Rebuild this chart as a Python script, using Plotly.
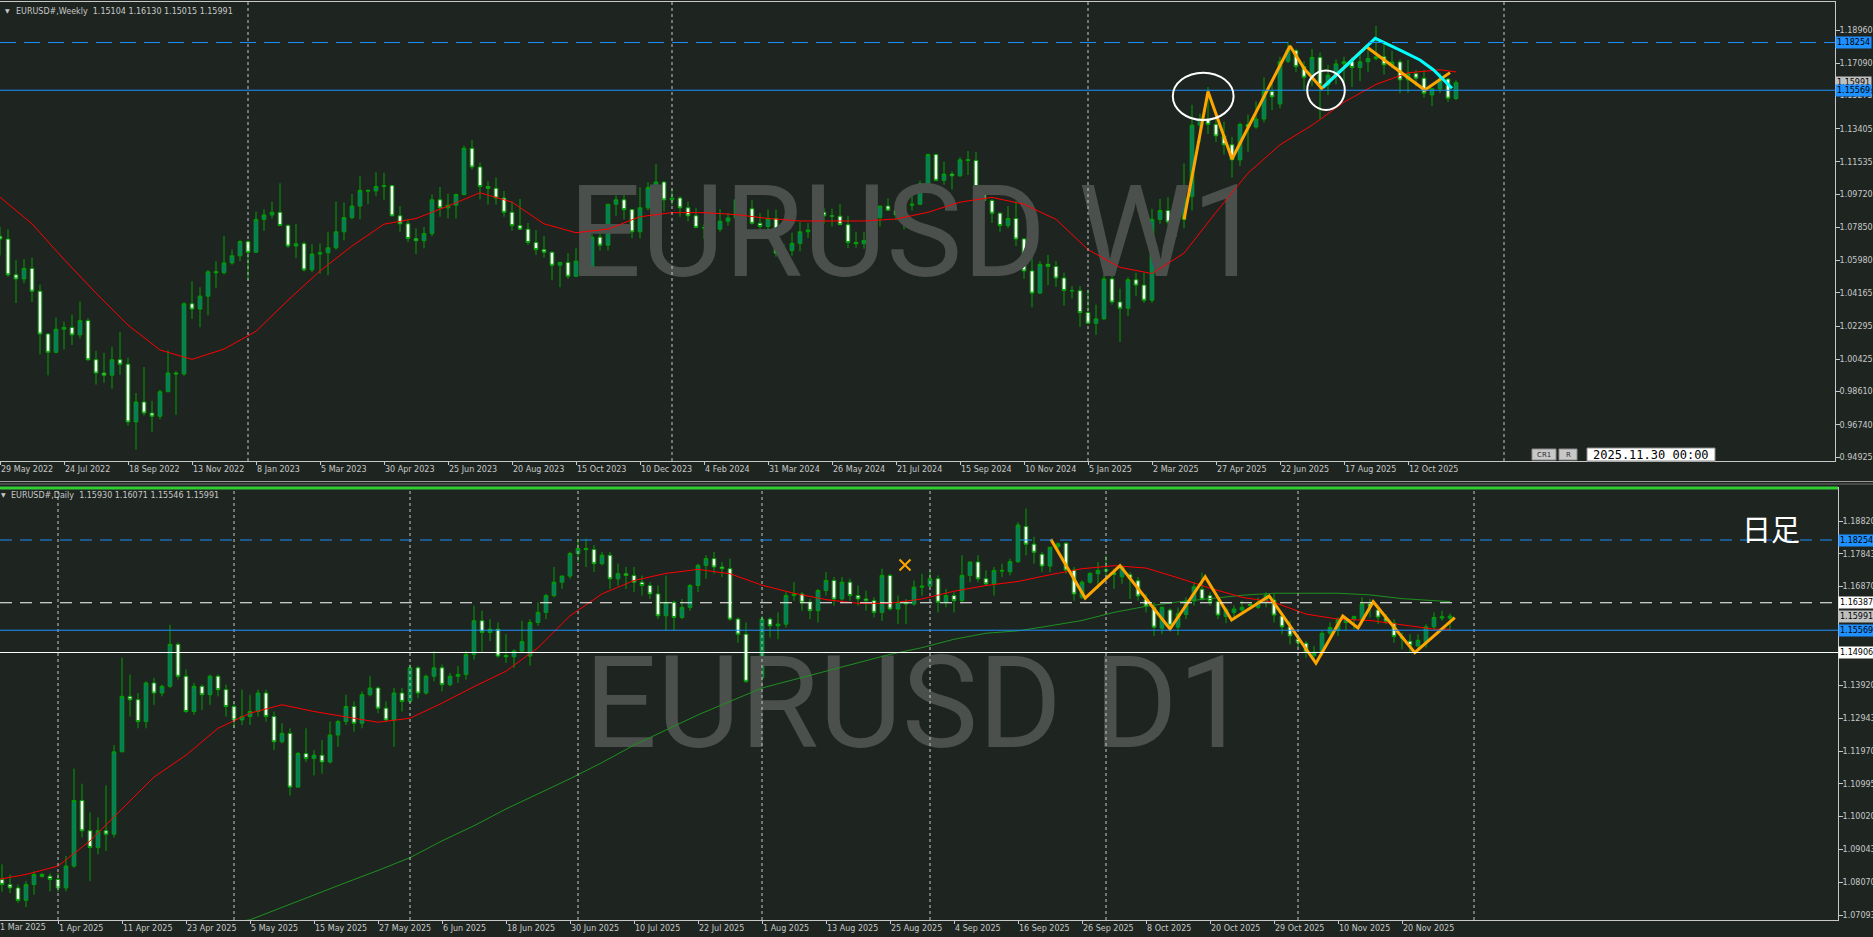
import plotly.graph_objects as go

# ---------------------------------------------------------------- data
# Weekly EURUSD#, bars from the week of 29 May 2022 to the week of 23 Nov 2025
w_open = [1.0735,1.0719,1.0518,1.0495,1.0554,1.0426,1.0185,1.0082,1.0212,1.0222,
1.0180,1.0260,1.0040,0.9965,0.9953,1.0040,1.0015,0.9690,0.9802,0.9740,
0.9722,0.9860,0.9965,0.9960,1.0355,1.0325,1.0398,1.0535,1.0530,1.0585,
1.0625,1.0705,1.0645,1.0830,1.0855,1.0870,1.0795,1.0680,1.0693,1.0546,
1.0635,1.0642,1.0670,1.0760,1.0840,1.0905,1.0993,1.0990,1.1015,1.1020,
1.0850,1.0805,1.0722,1.0710,1.0750,1.0940,1.0895,1.0910,1.0970,1.1230,
1.1125,1.1015,1.1005,1.0950,1.0870,1.0795,1.0775,1.0700,1.0660,1.0645,
1.0572,1.0588,1.0510,1.0595,1.0565,1.0730,1.0685,1.0915,1.0940,1.0885,
1.0760,1.0895,1.1010,1.1040,1.0940,1.0950,1.0895,1.0850,1.0785,1.0782,
1.0775,1.0820,1.0838,1.0940,1.0890,1.0808,1.0790,1.0835,1.0640,1.0655,
1.0695,1.0760,1.0770,1.0870,1.0850,1.0848,1.0800,1.0700,1.0693,1.0712,
1.0840,1.0905,1.0882,1.0855,1.0910,1.0915,1.1030,1.1195,1.1050,1.1085,
1.1075,1.1165,1.1162,1.0975,1.0936,1.0865,1.0795,1.0835,1.0720,1.0540,
1.0415,1.0577,1.0565,1.0500,1.0430,1.0428,1.0305,1.0245,1.0270,1.0495,
1.0365,1.0330,1.0490,1.0460,1.0375,1.0830,1.0880,1.0815,1.0830,1.0960,
1.1360,1.1395,1.1365,1.1300,1.1250,1.1165,1.1365,1.1350,1.1395,1.1550,
1.1480,1.1720,1.1780,1.1690,1.1630,1.1742,1.1587,1.1642,1.1705,1.1718,
1.1685,1.1717,1.1735,1.1745,1.1700,1.1716,1.1615,1.1650,1.1625,1.1530,
1.1565,1.1620,1.15104]
w_high = [1.0786,1.0774,1.0601,1.0606,1.0615,1.0463,1.0190,1.0278,1.0254,1.0294,
1.0368,1.0275,1.0090,1.0079,1.0113,1.0197,1.0051,0.9853,0.9999,0.9809,
0.9870,1.0094,0.9976,1.0364,1.0481,1.0448,1.0545,1.0595,1.0737,1.0660,
1.0713,1.0713,1.0874,1.0887,1.0929,1.1033,1.0805,1.0805,1.0705,1.0691,
1.0695,1.0760,1.0930,1.0925,1.0973,1.1076,1.1000,1.1095,1.1092,1.1025,
1.0905,1.0830,1.0780,1.0787,1.0970,1.1012,1.0975,1.0975,1.1245,1.1276,
1.1150,1.1045,1.1065,1.0990,1.0930,1.0945,1.0810,1.0770,1.0737,1.0650,
1.0590,1.0640,1.0668,1.0695,1.0747,1.0755,1.0915,1.0965,1.1017,1.0890,
1.1010,1.1040,1.1140,1.1045,1.1000,1.0960,1.0930,1.0895,1.0805,1.0805,
1.0888,1.0865,1.0980,1.0965,1.0940,1.0865,1.0885,1.0885,1.0690,1.0755,
1.0815,1.0810,1.0895,1.0895,1.0890,1.0915,1.0850,1.0760,1.0760,1.0845,
1.0905,1.0948,1.0895,1.0925,1.1010,1.1048,1.1200,1.1200,1.1155,1.1100,
1.1180,1.1215,1.1210,1.0985,1.0945,1.0870,1.0905,1.0935,1.0725,1.0610,
1.0595,1.0630,1.0595,1.0530,1.0455,1.0455,1.0435,1.0350,1.0520,1.0530,
1.0440,1.0505,1.0530,1.0530,1.0890,1.0945,1.0955,1.0860,1.1145,1.1475,
1.1425,1.1575,1.1425,1.1380,1.1295,1.1375,1.1420,1.1495,1.1630,1.1615,
1.1745,1.1830,1.1790,1.1720,1.1790,1.1770,1.1700,1.1730,1.1745,1.1742,
1.1780,1.1780,1.1919,1.1820,1.1779,1.1730,1.1728,1.1670,1.1670,1.1565,
1.1655,1.1625,1.16130]
w_low = [1.0627,1.0506,1.0359,1.0470,1.0365,1.0071,0.9952,1.0075,1.0098,1.0123,
1.0160,1.0033,0.9900,0.9910,0.9877,0.9955,0.9668,0.9535,0.9726,0.9632,
0.9705,0.9860,0.9730,0.9950,1.0270,1.0223,1.0290,1.0443,1.0520,1.0575,
1.0595,1.0483,1.0640,1.0765,1.0835,1.0795,1.0669,1.0612,1.0536,1.0533,
1.0524,1.0516,1.0660,1.0712,1.0830,1.0830,1.0915,1.0960,1.0940,1.0848,
1.0760,1.0702,1.0635,1.0667,1.0735,1.0845,1.0835,1.0835,1.0965,1.1110,
1.0943,1.0913,1.0913,1.0845,1.0766,1.0770,1.0686,1.0630,1.0615,1.0488,
1.0448,1.0495,1.0505,1.0525,1.0516,1.0655,1.0655,1.0850,1.0830,1.0724,
1.0723,1.0880,1.1005,1.0875,1.0910,1.0845,1.0820,1.0780,1.0720,1.0695,
1.0760,1.0795,1.0835,1.0870,1.0800,1.0775,1.0725,1.0620,1.0600,1.0625,
1.0650,1.0725,1.0765,1.0805,1.0790,1.0800,1.0668,1.0670,1.0665,1.0710,
1.0790,1.0880,1.0825,1.0775,1.0880,1.0910,1.1025,1.1045,1.1025,1.0999,
1.1070,1.1080,1.0950,1.0900,1.0810,1.0760,1.0780,1.0680,1.0495,1.0335,
1.0410,1.0460,1.0450,1.0345,1.0385,1.0225,1.0240,1.0180,1.0265,1.0350,
1.0140,1.0285,1.0400,1.0360,1.0360,1.0805,1.0800,1.0730,1.0780,1.0880,
1.1265,1.1310,1.1265,1.1195,1.1065,1.1130,1.1210,1.1340,1.1375,1.1445,
1.1455,1.1710,1.1660,1.1555,1.1580,1.1392,1.1530,1.1590,1.1585,1.1575,
1.1608,1.1660,1.1725,1.1645,1.1680,1.1540,1.1542,1.1578,1.1515,1.1468,
1.1540,1.1491,1.15015]
w_close = [1.0719,1.0518,1.0495,1.0554,1.0426,1.0185,1.0082,1.0212,1.0222,1.0180,
1.0260,1.0040,0.9965,0.9953,1.0040,1.0015,0.9690,0.9802,0.9740,0.9722,
0.9860,0.9965,0.9960,1.0355,1.0325,1.0398,1.0535,1.0530,1.0585,1.0625,
1.0705,1.0645,1.0830,1.0855,1.0870,1.0795,1.0680,1.0693,1.0546,1.0635,
1.0642,1.0670,1.0760,1.0840,1.0905,1.0993,1.0990,1.1015,1.1020,1.0850,
1.0805,1.0722,1.0710,1.0750,1.0940,1.0895,1.0910,1.0970,1.1230,1.1125,
1.1015,1.1005,1.0950,1.0870,1.0795,1.0775,1.0700,1.0660,1.0645,1.0572,
1.0588,1.0510,1.0595,1.0565,1.0730,1.0685,1.0915,1.0940,1.0885,1.0760,
1.0895,1.1010,1.1040,1.0940,1.0950,1.0895,1.0850,1.0785,1.0782,1.0775,
1.0820,1.0838,1.0940,1.0890,1.0808,1.0790,1.0835,1.0640,1.0655,1.0695,
1.0760,1.0770,1.0870,1.0850,1.0848,1.0800,1.0700,1.0693,1.0712,1.0840,
1.0905,1.0882,1.0855,1.0910,1.0915,1.1030,1.1195,1.1050,1.1085,1.1075,
1.1165,1.1162,1.0975,1.0936,1.0865,1.0795,1.0835,1.0720,1.0540,1.0415,
1.0577,1.0565,1.0500,1.0430,1.0428,1.0305,1.0245,1.0270,1.0495,1.0365,
1.0330,1.0490,1.0460,1.0375,1.0830,1.0880,1.0815,1.0830,1.0960,1.1360,
1.1395,1.1365,1.1300,1.1250,1.1165,1.1365,1.1350,1.1395,1.1550,1.1520,
1.1718,1.1783,1.1690,1.1630,1.1742,1.1587,1.1642,1.1705,1.1718,1.1685,
1.1717,1.1735,1.1745,1.1700,1.1716,1.1615,1.1650,1.1625,1.1540,1.1565,
1.1620,1.1512,1.15991]
w_tick_labels = ["29 May 2022","24 Jul 2022","18 Sep 2022","13 Nov 2022","8 Jan 2023",
"5 Mar 2023","30 Apr 2023","25 Jun 2023","20 Aug 2023","15 Oct 2023","10 Dec 2023",
"4 Feb 2024","31 Mar 2024","26 May 2024","21 Jul 2024","15 Sep 2024","10 Nov 2024",
"5 Jan 2025","2 Mar 2025","27 Apr 2025","22 Jun 2025","17 Aug 2025","12 Oct 2025"]
w_tick_bars = list(range(0, 183, 8))
w_year_sep_bars = [31, 84, 136, 188]
# weekly red moving average, read every 4 bars
w_ma_bars = list(range(0, 181, 4)) + [182]
w_ma = [1.0955,1.0805,1.0605,1.0415,1.0235,1.0095,1.0042,1.0100,1.0200,1.0375,
1.0540,1.0680,1.0803,1.0835,1.0905,1.0980,1.0927,1.0805,1.0755,1.0775,
1.0845,1.0868,1.0868,1.0857,1.0835,1.0821,1.0821,1.0821,1.0832,1.0870,
1.0927,1.0954,1.0915,1.0830,1.0660,1.0560,1.0525,1.0640,1.0870,1.1090,
1.1250,1.1360,1.1490,1.1590,1.1655,1.1672,1.1660]
w_zig_bars = [148, 151, 154, 161.25, 163, 165.2, 170.8, 178.1, 181.25]
w_zig_price = [1.0830, 1.1550, 1.1170, 1.1806, 1.1680, 1.1568, 1.1802, 1.1558, 1.1656]
w_cyan_bars = [165.4, 171.9, 175.0, 177.5, 179.2, 181.5]
w_cyan_price = [1.1573, 1.1849, 1.1783, 1.1727, 1.1671, 1.1568]
w_yticks = [1.18960,1.17090,1.15275,1.13405,1.11535,1.09720,1.07850,1.05980,
1.04165,1.02295,1.00425,0.98610,0.96740,0.94925]

# Daily EURUSD#, 21 Mar 2025 .. 28 Nov 2025 (183 bars)
d_open = [1.0855,1.0815,1.0800,1.0790,1.0753,1.0800,1.0830,1.0825,1.0815,1.0790,
1.0855,1.1050,1.0960,1.0910,1.0960,1.0950,1.1195,1.1360,1.1350,1.1285,
1.1400,1.1370,1.1390,1.1515,1.1420,1.1315,1.1390,1.1365,1.1420,1.1380,
1.1330,1.1290,1.1300,1.1315,1.1370,1.1300,1.1225,1.1250,1.1090,1.1190,
1.1175,1.1185,1.1165,1.1245,1.1285,1.1330,1.1280,1.1365,1.1385,1.1325,
1.1290,1.1370,1.1345,1.1445,1.1370,1.1420,1.1445,1.1395,1.1420,1.1425,
1.1485,1.1585,1.1550,1.1560,1.1482,1.1478,1.1495,1.1480,1.1580,1.1610,
1.1660,1.1700,1.1718,1.1785,1.1800,1.1797,1.1755,1.1780,1.1710,1.1725,
1.1720,1.1700,1.1690,1.1665,1.1600,1.1640,1.1595,1.1625,1.1690,1.1750,
1.1770,1.1745,1.1740,1.1590,1.1545,1.1405,1.1415,1.1590,1.1570,1.1575,
1.1660,1.1665,1.1640,1.1615,1.1675,1.1705,1.1650,1.1700,1.1660,1.1650,
1.1645,1.1610,1.1720,1.1620,1.1640,1.1635,1.1685,1.1688,1.1710,1.1640,
1.1660,1.1645,1.1720,1.1760,1.1710,1.1695,1.1735,1.1731,1.1761,1.1866,
1.1813,1.1783,1.1748,1.1806,1.1816,1.1736,1.1655,1.1700,1.1725,1.1733,
1.1728,1.1716,1.1722,1.1704,1.1649,1.1625,1.1563,1.1617,1.1566,1.1604,
1.1644,1.1679,1.1660,1.1642,1.1598,1.1610,1.1617,1.1634,1.1625,1.1640,
1.1647,1.1599,1.1567,1.1530,1.1518,1.1481,1.1493,1.1548,1.1556,1.1580,
1.1590,1.1589,1.1635,1.1617,1.1594,1.1578,1.1537,1.1524,1.1510,1.1520,
1.1567,1.1593,1.15930]
d_high = [1.0862,1.0860,1.0830,1.0800,1.0810,1.0840,1.0835,1.0833,1.0835,1.0885,
1.1145,1.1100,1.1015,1.1000,1.1095,1.1215,1.1475,1.1425,1.1370,1.1405,
1.1415,1.1395,1.1573,1.1520,1.1440,1.1400,1.1395,1.1425,1.1425,1.1395,
1.1345,1.1380,1.1365,1.1380,1.1380,1.1315,1.1280,1.1265,1.1195,1.1265,
1.1200,1.1230,1.1285,1.1290,1.1365,1.1345,1.1375,1.1420,1.1390,1.1345,
1.1385,1.1385,1.1455,1.1450,1.1425,1.1495,1.1455,1.1430,1.1450,1.1495,
1.1630,1.1615,1.1590,1.1580,1.1545,1.1500,1.1585,1.1590,1.1640,1.1665,
1.1745,1.1720,1.1790,1.1830,1.1830,1.1810,1.1790,1.1790,1.1755,1.1745,
1.1745,1.1720,1.1700,1.1690,1.1720,1.1645,1.1650,1.1695,1.1755,1.1780,
1.1790,1.1760,1.1770,1.1595,1.1580,1.1450,1.1600,1.1595,1.1610,1.1670,
1.1700,1.1670,1.1650,1.1680,1.1730,1.1715,1.1715,1.1710,1.1690,1.1675,
1.1655,1.1740,1.1725,1.1660,1.1650,1.1705,1.1725,1.1735,1.1720,1.1680,
1.1670,1.1780,1.1760,1.1780,1.1735,1.1745,1.1755,1.1770,1.1878,1.1919,
1.1835,1.1790,1.1805,1.1818,1.1819,1.1745,1.1705,1.1730,1.1760,1.1779,
1.1740,1.1750,1.1730,1.1715,1.1665,1.1640,1.1628,1.1622,1.1625,1.1655,
1.1700,1.1728,1.1670,1.1650,1.1625,1.1630,1.1645,1.1636,1.1655,1.1670,
1.1665,1.1610,1.1585,1.1545,1.1525,1.1510,1.1555,1.1580,1.1595,1.1595,
1.1600,1.1655,1.1650,1.1625,1.1605,1.1590,1.1550,1.1545,1.1545,1.1575,
1.1610,1.1615,1.16071]
d_low = [1.0797,1.0779,1.0775,1.0745,1.0733,1.0770,1.0820,1.0780,1.0778,1.0780,
1.0850,1.0940,1.0810,1.0890,1.0900,1.0940,1.1195,1.1300,1.1265,1.1265,
1.1335,1.1360,1.1385,1.1410,1.1310,1.1305,1.1320,1.1335,1.1360,1.1300,
1.1265,1.1275,1.1275,1.1300,1.1285,1.1200,1.1220,1.1065,1.1090,1.1165,
1.1125,1.1130,1.1160,1.1210,1.1275,1.1255,1.1265,1.1360,1.1310,1.1285,
1.1210,1.1315,1.1340,1.1355,1.1365,1.1405,1.1375,1.1390,1.1400,1.1410,
1.1470,1.1490,1.1525,1.1475,1.1460,1.1445,1.1490,1.1452,1.1570,1.1590,
1.1655,1.1680,1.1710,1.1760,1.1745,1.1730,1.1750,1.1680,1.1690,1.1680,
1.1670,1.1660,1.1650,1.1590,1.1555,1.1555,1.1590,1.1615,1.1670,1.1710,
1.1725,1.1715,1.1585,1.1520,1.1400,1.1390,1.1390,1.1535,1.1530,1.1565,
1.1645,1.1615,1.1590,1.1580,1.1660,1.1630,1.1645,1.1645,1.1630,1.1615,
1.1595,1.1585,1.1615,1.1575,1.1575,1.1630,1.1660,1.1685,1.1610,1.1625,
1.1610,1.1640,1.1700,1.1700,1.1690,1.1660,1.1715,1.1720,1.1757,1.1780,
1.1755,1.1730,1.1730,1.1785,1.1725,1.1645,1.1650,1.1695,1.1680,1.1705,
1.1680,1.1695,1.1650,1.1645,1.1610,1.1540,1.1545,1.1555,1.1542,1.1590,
1.1630,1.1645,1.1630,1.1590,1.1578,1.1590,1.1610,1.1628,1.1620,1.1625,
1.1580,1.1545,1.1515,1.1505,1.1475,1.1468,1.1480,1.1530,1.1540,1.1555,
1.1560,1.1585,1.1595,1.1575,1.1575,1.1520,1.1500,1.1491,1.1500,1.1505,
1.1560,1.1585,1.15546]
d_close = [1.0815,1.0800,1.0790,1.0753,1.0800,1.0830,1.0825,1.0815,1.0790,1.0855,
1.1050,1.0960,1.0910,1.0960,1.0950,1.1195,1.1360,1.1350,1.1285,1.1400,
1.1370,1.1390,1.1515,1.1420,1.1315,1.1390,1.1365,1.1420,1.1380,1.1330,
1.1290,1.1300,1.1315,1.1370,1.1300,1.1225,1.1250,1.1090,1.1190,1.1175,
1.1185,1.1165,1.1245,1.1285,1.1330,1.1280,1.1365,1.1385,1.1325,1.1290,
1.1370,1.1345,1.1445,1.1370,1.1420,1.1445,1.1395,1.1420,1.1425,1.1485,
1.1585,1.1550,1.1560,1.1480,1.1478,1.1495,1.1523,1.1580,1.1610,1.1660,
1.1700,1.1718,1.1785,1.1800,1.1797,1.1755,1.1780,1.1710,1.1725,1.1720,
1.1700,1.1690,1.1665,1.1600,1.1640,1.1595,1.1625,1.1690,1.1750,1.1770,
1.1745,1.1740,1.1590,1.1545,1.1405,1.1415,1.1590,1.1570,1.1575,1.1660,
1.1665,1.1640,1.1615,1.1675,1.1705,1.1650,1.1700,1.1660,1.1650,1.1645,
1.1610,1.1720,1.1620,1.1640,1.1635,1.1685,1.1688,1.1710,1.1640,1.1660,
1.1645,1.1720,1.1760,1.1710,1.1695,1.1735,1.1733,1.1761,1.1870,1.1813,
1.1789,1.1748,1.1804,1.1814,1.1736,1.1665,1.1700,1.1726,1.1735,1.1737,
1.1723,1.1746,1.1710,1.1659,1.1629,1.1566,1.1625,1.1572,1.1606,1.1644,
1.1686,1.1649,1.1642,1.1602,1.1619,1.1620,1.1625,1.1630,1.1640,1.1662,
1.1602,1.1567,1.1540,1.1520,1.1491,1.1491,1.1548,1.1565,1.1590,1.1592,
1.1598,1.1635,1.1626,1.1596,1.1584,1.1538,1.1533,1.1512,1.1527,1.1567,
1.1595,1.1597,1.15991]
d_first_label = "21 Mar 2025"
d_tick_labels = ["1 Apr 2025","11 Apr 2025","23 Apr 2025","5 May 2025","15 May 2025",
"27 May 2025","6 Jun 2025","18 Jun 2025","30 Jun 2025","10 Jul 2025","22 Jul 2025",
"1 Aug 2025","13 Aug 2025","25 Aug 2025","4 Sep 2025","16 Sep 2025","26 Sep 2025",
"8 Oct 2025","20 Oct 2025","29 Oct 2025","10 Nov 2025","20 Nov 2025"]
d_tick_bars = list(range(8, 183, 8))
d_month_sep_bars = [8, 30, 52, 73, 96, 117, 139, 163, 185]
# daily red (short) moving average, read every 4 bars
d_ma_bars = list(range(0, 181, 4)) + [182]
d_ma = [1.0813,1.0830,1.0855,1.0930,1.1025,1.1120,1.1185,1.1265,1.1310,1.1335,
1.1315,1.1298,1.1283,1.1295,1.1340,1.1389,1.1435,1.1505,1.1600,1.1665,
1.1705,1.1726,1.1738,1.1725,1.1691,1.1667,1.1648,1.1637,1.1637,1.1650,
1.1673,1.1690,1.1702,1.1722,1.1740,1.1749,1.1742,1.1713,1.1682,1.1655,
1.1640,1.1605,1.1590,1.1586,1.1574,1.1560,1.1560]
# daily green (long) moving average, read every 4 bars
d_ma_long_bars = list(range(28, 181, 4)) + [182]
d_ma_long = [1.0682,1.0695,1.0732,1.0770,1.0806,1.0842,1.0880,1.0930,1.0975,1.1025,
1.1070,1.1115,1.1163,1.1215,1.1260,1.1305,1.1345,1.1385,1.1410,1.1435,
1.1460,1.1485,1.1505,1.1530,1.1548,1.1555,1.1570,1.1586,1.1610,1.1628,
1.1641,1.1652,1.1661,1.1667,1.1667,1.1667,1.1662,1.1651,1.1645,1.1642]
d_zig_bars = [132.1, 136.4, 140.75, 147.0, 151.4, 154.7, 159.4, 165.25, 168.6, 170.5, 172.4, 177.6, 182.6]
d_zig_price = [1.18275, 1.16528, 1.17490, 1.15606, 1.17162, 1.15874, 1.16588, 1.14585,
               1.15993, 1.15636, 1.16418, 1.14900, 1.15942]
d_yticks = [1.18820,1.17843,1.16870,1.15899,1.14922,1.13920,1.12943,1.11970,
1.10995,1.10020,1.09043,1.08070,1.07093]

# horizontal lines / price labels
blue_dash_level = 1.18254
blue_solid_level = 1.15569
white_dash_level = 1.16387
white_solid_level = 1.14906
last_price = 1.15991

# ---------------------------------------------------------------- styling
W, H = 1873, 937
BG = "#1e2521"
FG = "#c8c8c8"
WICK = "#00a000"
UP_FILL = "#08767a"
DOWN_FILL = "#ffffff"
FONT = "DejaVu Sans"
BLUE = "#1e90ff"
WM = "#4b504d"
WM_FONT = "Roboto"

TOP_T, TOP_B, TOP_R = 2, 461, 1835
BOT_T, BOT_B, BOT_R = 488, 920, 1838
BAR_PX = 8.0


def px(x):
    return x / W


def py(y):
    return 1 - y / H


def top_price(y):
    return 1.18960 - (y - 30) / 1776.6


def bot_price(y):
    return 1.18820 - (y - 521) / 3360.0


w_x = list(range(len(w_close)))
d_x = list(range(len(d_close)))

fig = go.Figure()

# watermarks (behind candles)
fig.add_trace(go.Scatter(x=[916 / BAR_PX], y=[top_price(244)], mode="text", text=["EURUSD W1"],
                         textfont=dict(family=WM_FONT, size=128, color=WM),
                         xaxis="x", yaxis="y", hoverinfo="skip", showlegend=False))
fig.add_trace(go.Scatter(x=[(917 + 6) / BAR_PX], y=[bot_price(715)], mode="text", text=["EURUSD D1"],
                         textfont=dict(family=WM_FONT, size=128, color=WM),
                         xaxis="x2", yaxis="y2", hoverinfo="skip", showlegend=False))

candle_style = dict(
    increasing=dict(line=dict(color=WICK, width=1), fillcolor=UP_FILL),
    decreasing=dict(line=dict(color=WICK, width=1), fillcolor=DOWN_FILL),
    whiskerwidth=0, hoverinfo="skip", showlegend=False)

fig.add_trace(go.Candlestick(x=w_x, open=w_open, high=w_high, low=w_low, close=w_close,
                             xaxis="x", yaxis="y", **candle_style))
fig.add_trace(go.Candlestick(x=d_x, open=d_open, high=d_high, low=d_low, close=d_close,
                             xaxis="x2", yaxis="y2", **candle_style))

# moving averages
fig.add_trace(go.Scatter(x=w_ma_bars, y=w_ma, mode="lines", line=dict(color="#ff0000", width=1),
                         xaxis="x", yaxis="y", hoverinfo="skip", showlegend=False))
fig.add_trace(go.Scatter(x=d_ma_long_bars, y=d_ma_long, mode="lines", line=dict(color="#1f8f1f", width=1),
                         xaxis="x2", yaxis="y2", hoverinfo="skip", showlegend=False))
fig.add_trace(go.Scatter(x=d_ma_bars, y=d_ma, mode="lines", line=dict(color="#ff0000", width=1),
                         xaxis="x2", yaxis="y2", hoverinfo="skip", showlegend=False))

# drawn zigzags
fig.add_trace(go.Scatter(x=w_zig_bars, y=w_zig_price, mode="lines", line=dict(color="#ffa500", width=3),
                         xaxis="x", yaxis="y", hoverinfo="skip", showlegend=False))
fig.add_trace(go.Scatter(x=w_cyan_bars, y=w_cyan_price, mode="lines", line=dict(color="#00ffff", width=3),
                         xaxis="x", yaxis="y", hoverinfo="skip", showlegend=False))
fig.add_trace(go.Scatter(x=d_zig_bars, y=d_zig_price, mode="lines", line=dict(color="#ffa500", width=3),
                         xaxis="x2", yaxis="y2", hoverinfo="skip", showlegend=False))

# small orange object on the daily chart
fig.add_trace(go.Scatter(x=[(905 + 6) / BAR_PX], y=[bot_price(565)], mode="markers",
                         marker=dict(symbol="x-thin", size=11, line=dict(color="#ffa500", width=2)),
                         xaxis="x2", yaxis="y2", hoverinfo="skip", showlegend=False))

shapes = []
# period separators
for b in w_year_sep_bars:
    shapes.append(dict(type="line", xref="x", yref="y domain", x0=b, x1=b, y0=0, y1=1,
                       line=dict(color=FG, width=1, dash="3px,3px")))
for b in d_month_sep_bars:
    shapes.append(dict(type="line", xref="x2", yref="y2 domain", x0=b, x1=b, y0=0, y1=1,
                       line=dict(color=FG, width=1, dash="3px,3px")))
# horizontal levels
shapes.append(dict(type="line", xref="x domain", yref="y", x0=0, x1=1, y0=blue_dash_level, y1=blue_dash_level,
                   line=dict(color=BLUE, width=1, dash="16px,8px")))
shapes.append(dict(type="line", xref="x domain", yref="y", x0=0, x1=1, y0=blue_solid_level, y1=blue_solid_level,
                   line=dict(color=BLUE, width=1)))
shapes.append(dict(type="line", xref="x2 domain", yref="y2", x0=0, x1=1, y0=blue_dash_level, y1=blue_dash_level,
                   line=dict(color=BLUE, width=1, dash="12px,8px")))
shapes.append(dict(type="line", xref="x2 domain", yref="y2", x0=0, x1=1, y0=white_dash_level, y1=white_dash_level,
                   line=dict(color="#ffffff", width=1, dash="12px,8px")))
shapes.append(dict(type="line", xref="x2 domain", yref="y2", x0=0, x1=1, y0=blue_solid_level, y1=blue_solid_level,
                   line=dict(color=BLUE, width=1)))
shapes.append(dict(type="line", xref="x2 domain", yref="y2", x0=0, x1=1, y0=white_solid_level, y1=white_solid_level,
                   line=dict(color="#ffffff", width=1)))
# hand drawn circles on weekly chart
shapes.append(dict(type="circle", xref="x", yref="y", x0=146.6, x1=154.2, y0=1.1389, y1=1.1656,
                   line=dict(color="#ffffff", width=2)))
shapes.append(dict(type="circle", xref="x", yref="y", x0=163.4, x1=168.1, y0=1.1446, y1=1.1668,
                   line=dict(color="#ffffff", width=2)))
# splitter between the two windows
shapes.append(dict(type="line", xref="paper", yref="paper", x0=0, x1=1, y0=py(481.5), y1=py(481.5),
                   line=dict(color="#9a9a9a", width=1)))
shapes.append(dict(type="line", xref="paper", yref="paper", x0=0, x1=1, y0=py(484), y1=py(484),
                   line=dict(color="#6e6e6e", width=1)))
shapes.append(dict(type="rect", xref="paper", yref="paper", x0=0, x1=px(BOT_R), y0=py(489.5), y1=py(486.5),
                   fillcolor="#32cd32", line=dict(width=0)))
# CR1 / R buttons and date box
shapes.append(dict(type="rect", xref="paper", yref="paper", x0=px(1532), x1=px(1556), y0=py(460), y1=py(449),
                   fillcolor="#c8c8c8", line=dict(color="#8a8a8a", width=1)))
shapes.append(dict(type="rect", xref="paper", yref="paper", x0=px(1559), x1=px(1577), y0=py(460), y1=py(449),
                   fillcolor="#c8c8c8", line=dict(color="#8a8a8a", width=1)))
shapes.append(dict(type="rect", xref="paper", yref="paper", x0=px(1587), x1=px(1715), y0=py(461), y1=py(448),
                   fillcolor="#ffffff", line=dict(color="#8a8a8a", width=1)))

annotations = []


def txt(x, y, s, size=8, color=FG, anchor="left", family=FONT, **kw):
    annotations.append(dict(xref="paper", yref="paper", x=px(x), y=py(y), text=s, showarrow=False,
                            xanchor=anchor, yanchor="middle", font=dict(family=family, size=size, color=color), **kw))


txt(3, 10, "▼", size=6)
txt(14, 11, "EURUSD#,Weekly\u00a0\u00a01.15104 1.16130 1.15015 1.15991")
txt(-1, 494, "▼", size=6)
txt(9, 495, "EURUSD#,Daily\u00a0\u00a01.15930 1.16071 1.15546 1.15991")
txt(-7, 927, d_first_label)
txt(1544, 455, "CR1", size=7, color="#303030", anchor="center")
txt(1568, 455, "R", size=7, color="#303030", anchor="center")
txt(1651, 455, "2025.11.30 00:00", size=12, color="#000000", anchor="center", family="DejaVu Sans Mono")
txt(1771, 528, "日足", size=29, color="#ffffff", anchor="center", family="Noto Sans CJK JP")


def price_label(axis_y, level, bg, fg, xpix):
    annotations.append(dict(xref="paper", yref=axis_y, x=px(xpix), y=level, text=f"{level:.5f}",
                            showarrow=False, xanchor="left", yanchor="middle", bgcolor=bg, borderpad=1,
                            font=dict(family=FONT, size=8, color=fg)))


price_label("y", blue_dash_level, BLUE, "#000000", TOP_R)
price_label("y", last_price, "#c0c0c0", "#000000", TOP_R)
price_label("y", blue_solid_level, BLUE, "#000000", TOP_R)
price_label("y2", blue_dash_level, BLUE, "#000000", BOT_R)
price_label("y2", white_dash_level, "#ffffff", "#000000", BOT_R)
price_label("y2", last_price, "#c0c0c0", "#000000", BOT_R)
price_label("y2", blue_solid_level, BLUE, "#000000", BOT_R)
price_label("y2", white_solid_level, "#ffffff", "#000000", BOT_R)

axis_font = dict(family=FONT, size=8, color=FG)
common_x = dict(showgrid=False, zeroline=False, showline=True, linecolor=FG, linewidth=1, mirror=True,
                ticks="outside", ticklen=3, tickcolor=FG, tickfont=axis_font, ticklabelposition="outside right",
                rangeslider=dict(visible=False), automargin=False, fixedrange=True)
common_y = dict(showgrid=False, zeroline=False, showline=True, linecolor=FG, linewidth=1, side="right",
                ticks="outside", ticklen=4, tickcolor=FG, tickfont=axis_font, automargin=False, fixedrange=True,
                ticklabelstandoff=-2)

fig.update_layout(
    width=W, height=H, margin=dict(l=0, r=0, t=0, b=0), template="none",
    paper_bgcolor=BG, plot_bgcolor=BG, showlegend=False, boxgap=0.35,
    xaxis=dict(domain=[0, px(TOP_R)], range=[0, TOP_R / BAR_PX], anchor="y",
               tickvals=w_tick_bars, ticktext=w_tick_labels, **common_x),
    yaxis=dict(domain=[py(TOP_B), py(TOP_T)], range=[top_price(TOP_B), top_price(TOP_T)], anchor="x",
               tickvals=w_yticks, ticktext=[f"{v:.5f}" for v in w_yticks], **common_y),
    xaxis2=dict(domain=[0, px(BOT_R)], range=[0.75, 0.75 + BOT_R / BAR_PX], anchor="y2",
                tickvals=d_tick_bars, ticktext=d_tick_labels, **common_x),
    yaxis2=dict(domain=[py(BOT_B), py(BOT_T)], range=[bot_price(BOT_B), bot_price(BOT_T)], anchor="x2",
                tickvals=d_yticks, ticktext=[f"{v:.5f}" for v in d_yticks], **common_y),
    shapes=shapes, annotations=annotations,
)

fig.write_html(
    "out.html",
    config={"displayModeBar": False},
    post_script=("document.body.style.margin='0px';"
                 "document.body.style.padding='0px';"
                 "document.body.style.background='" + BG + "';"
                 "document.documentElement.style.overflow='hidden';"),
)
